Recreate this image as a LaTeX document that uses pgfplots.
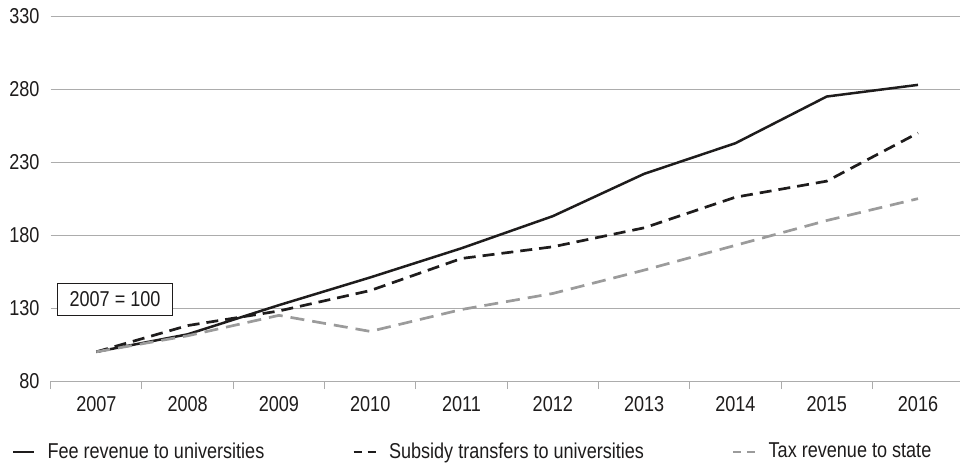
\documentclass[border=0pt]{standalone}
\usepackage{pgfplots}
\pgfplotsset{compat=1.18}
\usepackage{fontspec}
\setmainfont{Liberation Sans}[FakeStretch=0.84]
\definecolor{gridgray}{RGB}{172,172,172}
\definecolor{taxgray}{RGB}{155,155,155}
\definecolor{ink}{RGB}{30,28,28}
\begin{document}
\fontsize{21.5pt}{25pt}\selectfont
\begin{tikzpicture}
\path[use as bounding box] (0,0) rectangle (960pt,466pt);
\begin{axis}[
  at={(50.7pt,85pt)}, anchor=south west,
  scale only axis, width=909.3pt, height=364.7pt,
  xmin=-0.5, xmax=9.46, ymin=80, ymax=330,
  xtick={0,...,9},
  xticklabels={2007,2008,2009,2010,2011,2012,2013,2014,2015,2016},
  minor xtick={-0.5,0.5,...,8.5},
  ytick={80,130,...,330},
  ymajorgrids, major grid style={gridgray, line width=1pt},
  axis x line*=bottom, axis y line*=left,
  x axis line style={-, draw=gridgray, line width=1pt},
  y axis line style={draw=none},
  major tick length=0pt, minor tick length=8pt, tick align=outside,
  minor tick style={gridgray, line width=1pt},
  tick label style={text=ink, inner sep=0pt},
  yticklabel style={xshift=-11pt},
  xticklabel style={yshift=-15.5pt},
  /pgf/number format/assume math mode=true,
  legend columns=3,
  legend cell align=left,
  legend style={draw=none, fill=none, inner sep=0pt, outer sep=0pt,
    at={(axis description cs:-0.04256,-0.195)}, anchor=west,
    nodes={inner sep=0pt, text=ink},
    /tikz/every odd column/.append style={column sep=12pt},
    /tikz/every even column/.append style={column sep=88pt}},
  legend image code/.code={\draw[#1] (0pt,0pt) -- (21pt,0pt);},
]
\addplot[ink, line width=2.5pt, line join=round] coordinates {
  (0,100) (1,112) (2,132) (3,151) (4,171) (5,193) (6,222) (7,243) (8,275) (9,283)
};
\addlegendentry{Fee revenue to universities}
\addplot[ink, line width=2.7pt, dash pattern=on 12pt off 7pt,
  legend image code/.code={\draw[ink, line width=2.7pt, dash pattern=on 8pt off 6pt] (0pt,0pt) -- (22pt,0pt);}] coordinates {
  (0,100) (1,118) (2,128) (3,142) (4,164) (5,172) (6,185) (7,206) (8,217) (9,250)
};
\addlegendentry{Subsidy transfers to universities}
\addplot[taxgray, line width=2.7pt, dash pattern=on 14pt off 8pt,
  legend image code/.code={\draw[taxgray, line width=2.7pt, dash pattern=on 8pt off 6pt] (0pt,0pt) -- (22pt,0pt);}] coordinates {
  (0,100) (1,111) (2,125) (3,114) (4,129) (5,140) (6,156) (7,173) (8,190) (9,205)
};
\addlegendentry{Tax revenue to state}
\node[draw=ink, fill=white, line width=1pt, minimum width=115pt,
  minimum height=32pt, inner sep=0pt, text=ink] at (axis cs:0.205,136.2) {2007 = 100};
\end{axis}
\end{tikzpicture}
\end{document}
